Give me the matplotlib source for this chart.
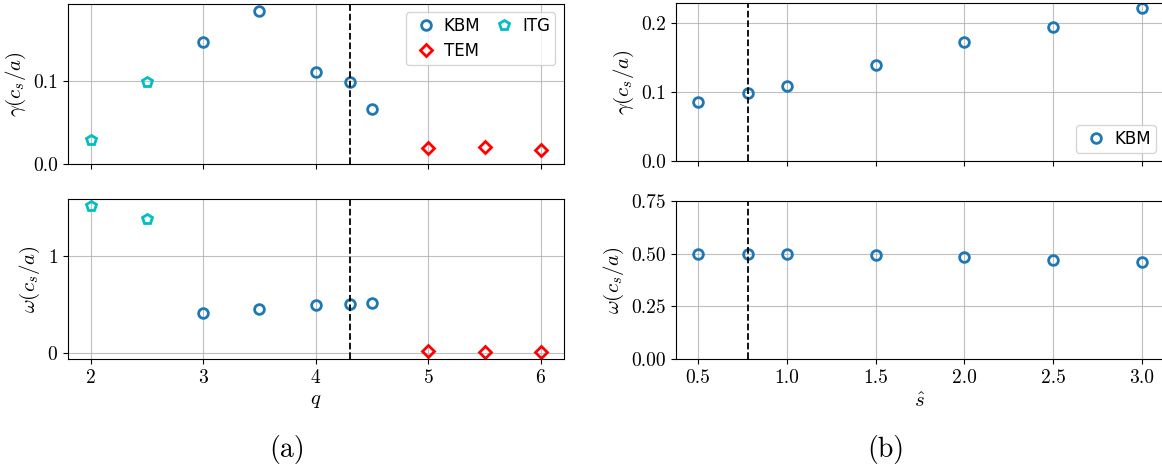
import numpy as np
import matplotlib
matplotlib.use('Agg')
import matplotlib.pyplot as plt
from matplotlib.ticker import FormatStrFormatter

plt.rcParams['font.family'] = 'serif'
plt.rcParams['font.serif'] = ['cmr10']
plt.rcParams['mathtext.fontset'] = 'cm'
plt.rcParams['axes.formatter.use_mathtext'] = True
plt.rcParams['axes.unicode_minus'] = False

# q scan (a)
q_kbm = [3.0, 3.5, 4.0, 4.3, 4.5]
gam_kbm = [0.1458, 0.1836, 0.1108, 0.0980, 0.0660]
om_kbm = [0.409, 0.447, 0.488, 0.498, 0.509]

q_itg = [2.0, 2.5]
gam_itg = [0.0283, 0.0984]
om_itg = [1.512, 1.378]

q_tem = [5.0, 5.5, 6.0]
gam_tem = [0.0191, 0.0199, 0.0171]
om_tem = [0.012, 0.008, 0.010]

q_ref = 4.3

# magnetic shear scan (b)
s_kbm = [0.5, 0.78, 1.0, 1.5, 2.0, 2.5, 3.0]
gam_s = [0.0855, 0.0980, 0.109, 0.1396, 0.172, 0.194, 0.2217]
om_s = [0.500, 0.499, 0.498, 0.493, 0.486, 0.469, 0.462]

s_ref = 0.78

W, H = 1162, 470
fig = plt.figure(figsize=(W / 100, H / 100), dpi=100)

def box(x0, y0, x1, y1):
    return [x0 / W, 1 - y1 / H, (x1 - x0) / W, (y1 - y0) / H]

ax1 = fig.add_axes(box(68, 4, 563.5, 164))
ax2 = fig.add_axes(box(68, 199, 563.5, 359), sharex=ax1)
ax3 = fig.add_axes(box(676, 3.3, 1164, 161))
ax4 = fig.add_axes(box(676, 201, 1164, 359), sharex=ax3)

mk = dict(linestyle='none', markerfacecolor='none', markeredgewidth=2, markersize=7)
dmk = dict(mk, markersize=6.5)
lfont = {'family': 'DejaVu Sans', 'size': 12}
lkw = dict(prop=lfont, borderpad=0.3, labelspacing=0.4, handlelength=1.8,
           handletextpad=0.2, columnspacing=0.5)
lab = 15
tk = 14

# growth rate vs q
l_kbm, = ax1.plot(q_kbm, gam_kbm, 'o', color='C0', label='KBM', **mk)
l_itg, = ax1.plot(q_itg, gam_itg, 'p', color='c', label='ITG', **mk)
l_tem, = ax1.plot(q_tem, gam_tem, 'D', color='r', label='TEM', **dmk)
ax1.axvline(q_ref, color='k', ls='--', lw=1.3)
ax1.set_ylim(bottom=0)
ax1.set_yticks([0.0, 0.1])
ax1.set_ylabel(r'$\gamma(c_s/a)$', fontsize=lab)
ax1.legend(handles=[l_kbm, l_tem, l_itg], ncol=2, loc='upper right', **lkw)
ax1.tick_params(labelbottom=False)

# frequency vs q
ax2.plot(q_kbm, om_kbm, 'o', color='C0', **mk)
ax2.plot(q_itg, om_itg, 'p', color='c', **mk)
ax2.plot(q_tem, om_tem, 'D', color='r', **dmk)
ax2.axvline(q_ref, color='k', ls='--', lw=1.3)
ax2.set_yticks([0, 1])
ax2.set_xticks([2, 3, 4, 5, 6])
ax2.set_xlim(1.8, 6.2)
ax2.set_ylabel(r'$\omega(c_s/a)$', fontsize=lab)
ax2.set_xlabel(r'$q$', fontsize=lab)

# growth rate vs shear
ax3.plot(s_kbm, gam_s, 'o', color='C0', label='KBM', **mk)
ax3.axvline(s_ref, color='k', ls='--', lw=1.3)
ax3.set_ylim(bottom=0)
ax3.set_yticks([0.0, 0.1, 0.2])
ax3.set_ylabel(r'$\gamma(c_s/a)$', fontsize=lab)
ax3.legend(loc='lower right', **lkw)
ax3.tick_params(labelbottom=False)

# frequency vs shear
ax4.plot(s_kbm, om_s, 'o', color='C0', **mk)
ax4.axvline(s_ref, color='k', ls='--', lw=1.3)
ax4.set_ylim(0, 0.75)
ax4.set_yticks([0.0, 0.25, 0.5, 0.75])
ax4.set_xticks([0.5, 1.0, 1.5, 2.0, 2.5, 3.0])
ax4.set_xlim(0.375, 3.125)
ax4.set_ylabel(r'$\omega(c_s/a)$', fontsize=lab)
ax4.set_xlabel(r'$\hat{s}$', fontsize=lab)

for ax in (ax1, ax2, ax3, ax4):
    ax.grid(True, color='#b0b0b0', lw=0.8, alpha=0.8)
    ax.set_axisbelow(True)
    ax.tick_params(labelsize=tk)

ax1.yaxis.set_major_formatter(FormatStrFormatter('%.1f'))
ax3.yaxis.set_major_formatter(FormatStrFormatter('%.1f'))
ax4.yaxis.set_major_formatter(FormatStrFormatter('%.2f'))
ax4.xaxis.set_major_formatter(FormatStrFormatter('%.1f'))

fig.text(287 / W, 1 - 450 / H, '(a)', ha='center', va='center', fontsize=20)
fig.text(886 / W, 1 - 450 / H, '(b)', ha='center', va='center', fontsize=20)

fig.savefig('out.png', dpi=100)
